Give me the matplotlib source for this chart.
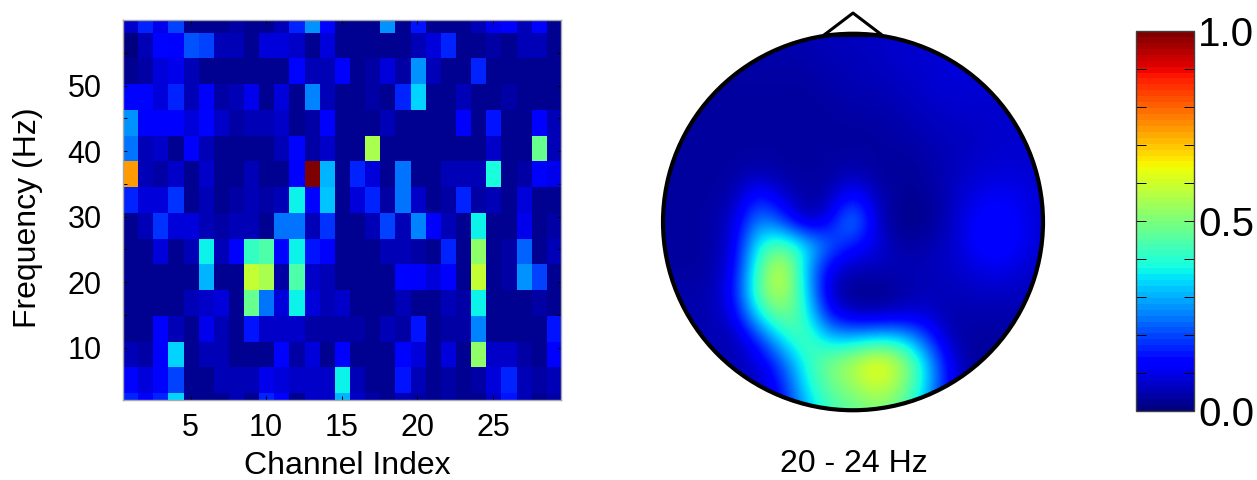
import matplotlib
matplotlib.use("Agg")
import numpy as np
import matplotlib.pyplot as plt
from matplotlib.patches import Ellipse

plt.rcParams["font.family"] = ["Liberation Sans", "DejaVu Sans"]

W, H = 1257, 480

# channel x frequency map, top row first (highest frequency)
heat_rows = [
    [.07, .17, .10, .20, .02, .02, .02, .04, .03, .02, .05, .17, .27, .14, .03, .02, .02, .28, .03, .15, .03, .03, .03, .06, .10, .12, .05, .13, .03],
    [.01, .05, .14, .11, .21, .19, .06, .06, .02, .09, .09, .07, .03, .09, .03, .02, .02, .02, .02, .06, .09, .16, .02, .02, .04, .03, .06, .06, .03],
    [.03, .04, .08, .10, .06, .02, .02, .02, .02, .03, .03, .14, .06, .05, .11, .02, .04, .09, .04, .27, .06, .02, .02, .16, .03, .03, .03, .03, .03],
    [.14, .14, .09, .16, .05, .11, .04, .05, .10, .02, .09, .02, .25, .06, .03, .03, .04, .02, .16, .33, .02, .02, .05, .02, .02, .04, .02, .03, .02],
    [.28, .11, .11, .11, .08, .14, .07, .04, .05, .05, .07, .02, .04, .12, .02, .02, .02, .05, .03, .02, .02, .02, .12, .02, .15, .03, .02, .12, .06],
    [.24, .05, .07, .02, .11, .06, .03, .03, .02, .02, .05, .13, .04, .07, .02, .02, .55, .02, .02, .02, .02, .02, .02, .02, .07, .02, .03, .47, .06],
    [.74, .05, .04, .07, .02, .07, .03, .03, .05, .03, .03, .12, 1.0, .31, .02, .17, .08, .03, .24, .02, .02, .06, .06, .05, .39, .03, .04, .11, .10],
    [.16, .09, .09, .18, .02, .05, .03, .04, .06, .04, .06, .36, .14, .32, .03, .09, .17, .04, .24, .07, .03, .04, .17, .04, .06, .02, .08, .02, .03],
    [.02, .06, .18, .08, .08, .05, .04, .06, .05, .03, .24, .24, .05, .18, .02, .02, .05, .20, .05, .26, .11, .05, .03, .36, .03, .03, .10, .02, .04],
    [.02, .02, .09, .02, .06, .36, .05, .11, .41, .45, .13, .36, .15, .11, .02, .02, .02, .05, .05, .04, .03, .16, .02, .53, .03, .04, .23, .02, .06],
    [.02, .02, .02, .02, .02, .31, .02, .03, .58, .56, .04, .44, .07, .06, .02, .03, .03, .03, .13, .12, .09, .12, .02, .59, .03, .04, .27, .20, .02],
    [.02, .02, .02, .02, .05, .07, .09, .03, .48, .24, .09, .36, .08, .05, .07, .03, .03, .03, .05, .03, .03, .05, .04, .36, .03, .03, .03, .04, .03],
    [.03, .03, .11, .05, .03, .10, .05, .03, .15, .07, .07, .07, .04, .04, .04, .04, .03, .06, .04, .15, .03, .04, .04, .25, .03, .03, .03, .03, .15],
    [.06, .04, .12, .33, .03, .05, .05, .02, .02, .02, .14, .04, .08, .03, .11, .02, .03, .03, .14, .09, .02, .09, .03, .52, .07, .07, .04, .03, .11],
    [.13, .09, .14, .20, .03, .03, .05, .06, .06, .10, .08, .07, .07, .07, .37, .05, .03, .03, .15, .05, .03, .04, .03, .04, .08, .16, .05, .04, .05],
    [.16, .11, .17, .33, .03, .03, .02, .06, .02, .17, .12, .02, .07, .07, .30, .07, .04, .03, .05, .04, .03, .04, .03, .03, .07, .15, .06, .03, .04],
]
x_ticks = [5, 10, 15, 20, 25]
y_ticks = [10, 20, 30, 40, 50]

# scalp map read on a coarse grid, top row first
topo_rows = [
    [.04, .04, .04, .04, .04, .04, .05, .05, .06, .06, .07, .07, .07, .07, .07, .07, .07],
    [.04, .04, .04, .04, .04, .04, .04, .05, .05, .06, .07, .07, .08, .08, .07, .07, .07],
    [.03, .03, .03, .03, .03, .03, .03, .04, .05, .05, .06, .07, .08, .08, .07, .07, .07],
    [.03, .03, .03, .03, .03, .03, .03, .03, .04, .04, .05, .06, .07, .07, .07, .07, .07],
    [.03, .03, .03, .03, .03, .03, .03, .03, .03, .03, .04, .05, .06, .06, .07, .07, .07],
    [.03, .03, .03, .03, .03, .03, .03, .03, .03, .03, .03, .04, .05, .06, .07, .07, .07],
    [.03, .03, .03, .03, .05, .03, .03, .03, .05, .03, .02, .03, .05, .07, .08, .08, .07],
    [.03, .03, .03, .04, .17, .08, .03, .04, .16, .05, .02, .02, .05, .09, .11, .10, .07],
    [.03, .03, .03, .07, .27, .20, .03, .11, .30, .06, .01, .01, .05, .11, .14, .11, .07],
    [.03, .03, .03, .08, .38, .46, .36, .22, .14, .09, .03, .04, .06, .11, .14, .11, .07],
    [.03, .03, .03, .10, .43, .64, .32, .09, .05, .05, .05, .05, .06, .08, .10, .08, .06],
    [.04, .04, .04, .12, .47, .60, .36, .05, .01, .01, .03, .05, .05, .06, .06, .06, .05],
    [.04, .04, .04, .09, .35, .50, .41, .13, .06, .05, .07, .08, .04, .04, .04, .04, .04],
    [.05, .05, .05, .03, .16, .35, .46, .33, .33, .37, .36, .22, .05, .03, .03, .03, .03],
    [.05, .05, .05, .05, .07, .20, .39, .50, .57, .67, .57, .36, .11, .02, .02, .02, .02],
    [.05, .05, .05, .05, .05, .14, .36, .47, .53, .60, .53, .36, .11, .03, .03, .03, .03],
    [.05, .05, .05, .05, .05, .10, .30, .42, .46, .50, .46, .30, .10, .03, .03, .03, .03],
]
cbar_ticks = [0.0, 0.1, 0.2, 0.3, 0.4, 0.5, 0.6, 0.7, 0.8, 0.9, 1.0]
cbar_labels = ["0.0", "", "", "", "", "0.5", "", "", "", "", "1.0"]


def px_axes(left, top, right, bottom):
    return fig.add_axes([left / W, 1 - bottom / H, (right - left) / W, (bottom - top) / H])


fig = plt.figure(figsize=(W / 100, H / 100), dpi=100)
jet64 = plt.get_cmap("jet", 64)

# --- Heat map ---
ax = px_axes(122.5, 20, 561, 400)
im = ax.imshow(np.array(heat_rows), cmap=jet64, vmin=0, vmax=1, aspect="auto",
               interpolation="nearest", extent=(0.5, 29.5, -0.9, 62.0))
ax.set_xlim(0.5, 29.5)
ax.set_ylim(2, 60)
ax.set_xticks(x_ticks)
ax.set_yticks(y_ticks)
ax.tick_params(axis="x", direction="in", length=3, width=0.7, top=True, labelsize=22, pad=9)
ax.tick_params(axis="y", direction="in", length=3, width=0.7, right=True, labelsize=22, pad=15)
ax.set_yticks([15, 25, 35, 45, 55], minor=True)
ax.tick_params(which="minor", direction="in", length=3, width=0.7, right=True, left=True)
for s in ax.spines.values():
    s.set_color("#a8a8a8")
    s.set_linewidth(1.0)
fig.text(347.5 / W, 1 - 466 / H, "Channel Index", fontsize=23, ha="center", va="center")
fig.text(28 / W, 1 - 218 / H, "Frequency (Hz)", fontsize=23, ha="center", va="center", rotation=90)

# --- Scalp map ---
topo = px_axes(853 - 218.5, 222 - 216.5, 853 + 218.5, 222 + 216.5)
topo.set_xlim(-1.15, 1.15)
topo.set_ylim(-1.15, 1.15)
topo.axis("off")
h = 2 / 16
img = topo.imshow(np.array(topo_rows), cmap="jet", vmin=0, vmax=1, interpolation="bicubic",
                  extent=(-1 - h / 2, 1 + h / 2, -1 - h / 2, 1 + h / 2), aspect="auto")
img.set_clip_path(Ellipse((0, 0), 2, 2, transform=topo.transData))
topo.add_patch(Ellipse((0, 0), 2, 2, fill=False, ec="black", lw=3))
topo.plot([-0.15, 0, 0.15], [0.995, 1.11, 0.995], color="black", lw=2.2, clip_on=False)
topo.plot([-0.14, 0.14], [0.995, 0.995], color="black", lw=3, clip_on=False)
fig.text(854 / W, 1 - 464 / H, "20 - 24 Hz", fontsize=23, ha="center", va="center")

# --- Colour bar ---
cax = px_axes(1136, 31, 1194, 410.5)
cb = fig.colorbar(im, cax=cax)
cb.set_ticks(cbar_ticks)
cb.set_ticklabels(cbar_labels)
cb.ax.tick_params(direction="in", length=7.5, width=0.7, left=True, right=True, labelsize=29, pad=3)
cb.ax.minorticks_off()
cb.outline.set_edgecolor("#404040")
cb.outline.set_linewidth(1.0)

fig.savefig("out.png", dpi=100)
